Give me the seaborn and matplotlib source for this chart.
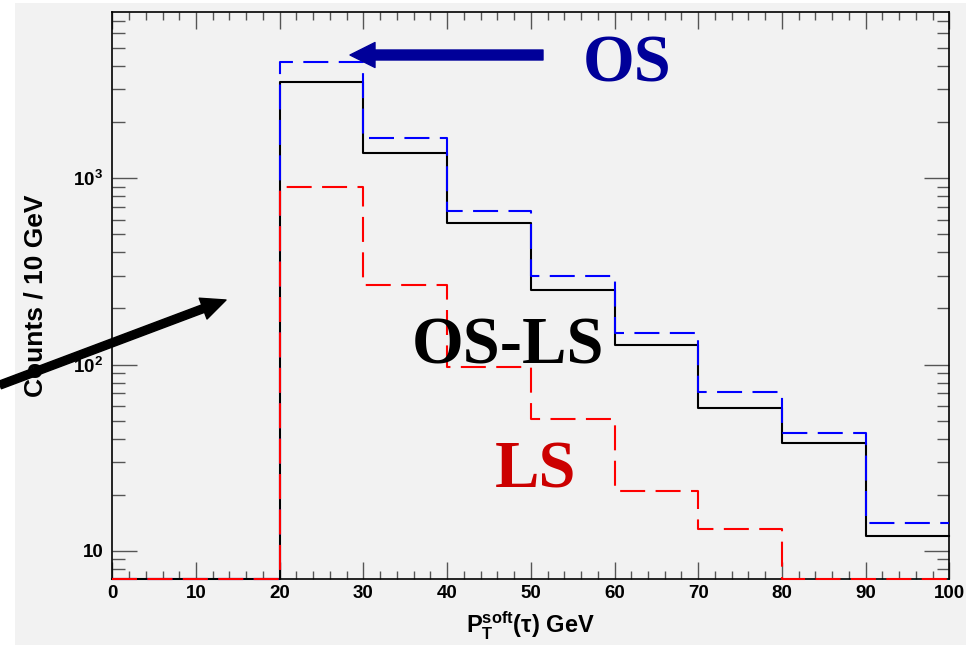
import numpy as np
import pandas as pd
import matplotlib
matplotlib.use("Agg")
import matplotlib.pyplot as plt
from matplotlib.patches import Rectangle, FancyArrowPatch
from matplotlib.ticker import FixedLocator, MultipleLocator, LogLocator, NullFormatter, FixedFormatter
import seaborn as sns

# ---------------- data ----------------
bin_edges = [0, 10, 20, 30, 40, 50, 60, 70, 80, 90, 100]
os_counts = [0, 0, 4205, 1652, 667, 298, 148, 71.6, 42.8, 14.0]
osls_counts = [0, 0, 3281, 1374, 577, 251, 127, 58.2, 37.8, 12.0]
ls_counts = [0, 0, 902, 267, 97, 50.8, 20.9, 13.0, 0, 0]
x_ticks = [0, 10, 20, 30, 40, 50, 60, 70, 80, 90, 100]
y_ticks = [10, 100, 1000]
y_tick_labels = ["10", r"$10^{2}$", r"$10^{3}$"]

YMIN, YMAX = 7.02, 7870

plt.rcParams["font.family"] = ["Liberation Sans", "DejaVu Sans"]
plt.rcParams["mathtext.fontset"] = "custom"
plt.rcParams["mathtext.rm"] = "Liberation Sans:bold"
plt.rcParams["mathtext.bf"] = "Liberation Sans:bold"
plt.rcParams["mathtext.it"] = "Liberation Sans:italic:bold"
plt.rcParams["mathtext.sf"] = "Liberation Sans:bold"

BG = "#f2f2f2"
W, H = 972, 645
fig = plt.figure(figsize=(W / 100, H / 100), dpi=100, facecolor="white")
fig.add_artist(Rectangle((15 / W, 0), (966 - 15) / W, 1 - 3 / H,
                         transform=fig.transFigure, facecolor=BG,
                         edgecolor="none", zorder=-10))

ax = fig.add_axes([112.3 / W, 1 - 579.3 / H, (949.3 - 112.3) / W, (579.3 - 11.5) / H])
ax.set_facecolor(BG)
ax.set_yscale("log")


def step_frame(counts):
    vals = np.asarray(counts, dtype=float)
    vals = np.where(vals > 0, vals, YMIN)
    return pd.DataFrame({"x": bin_edges, "y": np.append(vals, vals[-1])})


common = dict(x="x", y="y", drawstyle="steps-post", estimator=None,
              errorbar=None, sort=False, ax=ax, linewidth=1.5, clip_on=False)
sns.lineplot(data=step_frame(osls_counts), color="black", zorder=3, **common)
sns.lineplot(data=step_frame(os_counts), color="#0000ff", zorder=4,
             linestyle=(0, (12, 5)), **common)
sns.lineplot(data=step_frame(ls_counts), color="#ff0000", zorder=5,
             linestyle=(0, (12, 5)), **common)

ax.set_xlim(0, 100)
ax.set_ylim(YMIN, YMAX)

ax.xaxis.set_major_locator(FixedLocator(x_ticks))
ax.xaxis.set_minor_locator(MultipleLocator(2))
ax.yaxis.set_major_locator(FixedLocator(y_ticks))
ax.yaxis.set_major_formatter(FixedFormatter(y_tick_labels))
ax.yaxis.set_minor_locator(LogLocator(base=10, subs=np.arange(2, 10), numticks=20))
ax.yaxis.set_minor_formatter(NullFormatter())

tick_col = "#555555"
ax.tick_params(axis="both", which="both", direction="in", top=True, right=True,
               color=tick_col, width=1.0)
ax.tick_params(axis="x", which="major", length=12, pad=4, labelsize=13.5)
ax.tick_params(axis="x", which="minor", length=6)
ax.tick_params(axis="y", which="major", length=18, pad=6.5, labelsize=13.5)
ax.tick_params(axis="y", which="minor", length=9)
for lab in ax.get_xticklabels() + ax.get_yticklabels():
    lab.set_fontweight("bold")

for s in ax.spines.values():
    s.set_color("black")
    s.set_linewidth(1.2)

ax.set_xlabel(r"$\mathbf{P_{T}^{soft}}$(τ) GeV", fontsize=17, fontweight="bold")
ax.xaxis.set_label_coords(0.5, -0.054)
ax.set_ylabel("Counts / 10 GeV", fontsize=19, fontweight="bold")
ax.yaxis.set_label_coords(-0.078, 0.5)

serif = ["Liberation Serif", "DejaVu Serif"]
fig.text(627 / W, 1 - 82 / H, "OS", color="#000099", fontsize=48,
         fontweight="bold", family=serif, ha="center", va="baseline")
fig.text(507.5 / W, 1 - 363 / H, "OS-LS", color="black", fontsize=48,
         fontweight="bold", family=serif, ha="center", va="baseline")
fig.text(536 / W, 1 - 487 / H, "LS", color="#cc0000", fontsize=48,
         fontweight="bold", family=serif, ha="center", va="baseline")

fig.add_artist(FancyArrowPatch((543 / W, 1 - 55 / H), (350 / W, 1 - 55 / H),
                               transform=fig.transFigure,
                               arrowstyle="simple,head_length=1,head_width=1,tail_width=0.4",
                               mutation_scale=18, color="#000099",
                               shrinkA=0, shrinkB=0, zorder=10))
fig.add_artist(FancyArrowPatch((0 / W, 1 - 385 / H), (226 / W, 1 - 300 / H),
                               transform=fig.transFigure,
                               arrowstyle="simple,head_length=1.1,head_width=1.0,tail_width=0.36",
                               mutation_scale=16, color="black",
                               shrinkA=0, shrinkB=0, zorder=10))

fig.savefig("out.png", dpi=100, facecolor="white")
